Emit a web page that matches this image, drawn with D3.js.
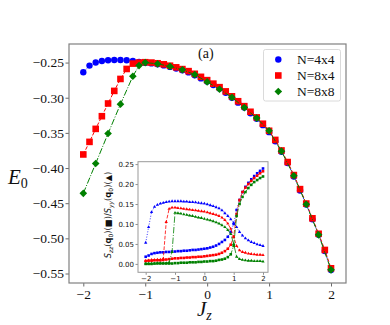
<!DOCTYPE html>
<html>
<head>
<meta charset="utf-8">
<script src="https://cdn.jsdelivr.net/npm/d3@7"></script>
<style>
  body { margin: 0; background: #fff; }
  text { fill: #111; }
</style>
</head>
<body>
<svg id="chart" width="390" height="325"></svg>
<script>
// ---- data ----
const jzFine = [-2.0, -1.9, -1.8, -1.7, -1.6, -1.5, -1.4, -1.3, -1.2, -1.1, -1.0,
  -0.9, -0.8, -0.7, -0.6, -0.5, -0.4, -0.3, -0.2, -0.1, 0.0,
  0.1, 0.2, 0.3, 0.4, 0.5, 0.6, 0.7, 0.8, 0.9, 1.0,
  1.1, 1.2, 1.3, 1.4, 1.5, 1.6, 1.7, 1.8, 1.9, 2.0];

const e0_4x4 = [-0.2638, -0.2543, -0.2500, -0.2477, -0.2467, -0.2463, -0.2463, -0.2467, -0.2477, -0.2490, -0.2505,
  -0.2512, -0.2524, -0.2540, -0.2562, -0.2585, -0.2610, -0.2640, -0.2680, -0.2725, -0.2770,
  -0.2820, -0.2870, -0.2930, -0.3000, -0.3070, -0.3140, -0.3220, -0.3300, -0.3390, -0.3490,
  -0.3620, -0.3770, -0.3930, -0.4120, -0.4320, -0.4520, -0.4730, -0.4950, -0.5180, -0.5450];

const e0_8x4 = [-0.3807, -0.3628, -0.3443, -0.3263, -0.3082, -0.2903, -0.2733, -0.2591, -0.2515, -0.2500, -0.2495,
  -0.2500, -0.2510, -0.2525, -0.2545, -0.2568, -0.2593, -0.2622, -0.2660, -0.2703, -0.2750,
  -0.2800, -0.2850, -0.2910, -0.2980, -0.3050, -0.3120, -0.3200, -0.3280, -0.3370, -0.3470,
  -0.3600, -0.3750, -0.3915, -0.4100, -0.4300, -0.4505, -0.4715, -0.4935, -0.5165, -0.5426];

const jzCoarse = [-2.0, -1.8, -1.6, -1.4, -1.2, -1.1, -1.0, -0.8, -0.6, -0.4, -0.2, 0.0,
  0.2, 0.4, 0.6, 0.8, 1.0, 1.2, 1.4, 1.6, 1.8, 2.0];
const e0_8x8 = [-0.4360, -0.3935, -0.3509, -0.3092, -0.2695, -0.2543, -0.2500, -0.2518, -0.2555, -0.2602, -0.2672, -0.2775,
  -0.2880, -0.2995, -0.3140, -0.3290, -0.3470, -0.3760, -0.4110, -0.4515, -0.4950, -0.5448];

// inset: structure factors vs Jz (squares = Szz, triangles = Syy)
const szz_4x4 = [0.018, 0.021, 0.025, 0.027, 0.028, 0.029, 0.029, 0.030, 0.030, 0.031, 0.031,
  0.032, 0.032, 0.033, 0.033, 0.034, 0.035, 0.035, 0.036, 0.037, 0.038,
  0.039, 0.041, 0.043, 0.046, 0.050, 0.055, 0.060, 0.068, 0.080, 0.100,
  0.135, 0.160, 0.180, 0.193, 0.203, 0.212, 0.220, 0.227, 0.233, 0.239];
const syy_4x4 = [0.053, 0.092, 0.130, 0.143, 0.148, 0.151, 0.153, 0.155, 0.156, 0.157, 0.157,
  0.157, 0.157, 0.156, 0.156, 0.155, 0.155, 0.154, 0.153, 0.152, 0.151,
  0.149, 0.147, 0.145, 0.142, 0.139, 0.134, 0.127, 0.120, 0.112, 0.103,
  0.092, 0.080, 0.071, 0.064, 0.059, 0.055, 0.052, 0.049, 0.047, 0.045];
const szz_8x4 = [0.007, 0.008, 0.008, 0.009, 0.009, 0.009, 0.010, 0.011, 0.012, 0.013, 0.014,
  0.014, 0.015, 0.015, 0.016, 0.016, 0.017, 0.017, 0.018, 0.018, 0.019,
  0.020, 0.021, 0.022, 0.023, 0.025, 0.028, 0.032, 0.038, 0.048, 0.068,
  0.125, 0.160, 0.180, 0.191, 0.200, 0.208, 0.215, 0.221, 0.227, 0.232];
const syy_8x4 = [0.008, 0.009, 0.010, 0.010, 0.011, 0.011, 0.013, 0.105, 0.138, 0.141, 0.141,
  0.140, 0.139, 0.138, 0.137, 0.136, 0.135, 0.134, 0.133, 0.132, 0.131,
  0.129, 0.127, 0.125, 0.123, 0.120, 0.116, 0.110, 0.101, 0.088, 0.068,
  0.045, 0.034, 0.030, 0.028, 0.026, 0.025, 0.024, 0.023, 0.023, 0.022];
const szz_8x8 = [0.000, 0.000, 0.000, 0.001, 0.001, 0.001, 0.001, 0.001, 0.001, 0.001, 0.002,
  0.002, 0.003, 0.003, 0.003, 0.004, 0.004, 0.004, 0.005, 0.005, 0.006,
  0.006, 0.007, 0.007, 0.008, 0.010, 0.011, 0.013, 0.017, 0.024, 0.045,
  0.120, 0.150, 0.168, 0.180, 0.190, 0.198, 0.205, 0.210, 0.215, 0.219];
const syy_8x8 = [0.001, 0.001, 0.001, 0.001, 0.002, 0.002, 0.002, 0.002, 0.004, 0.030, 0.128,
  0.127, 0.126, 0.124, 0.123, 0.121, 0.120, 0.118, 0.116, 0.115, 0.113,
  0.111, 0.109, 0.107, 0.104, 0.101, 0.097, 0.092, 0.085, 0.075, 0.050,
  0.018, 0.012, 0.010, 0.009, 0.008, 0.008, 0.007, 0.007, 0.007, 0.006];

const legendLabels = ["N=4x4", "N=8x4", "N=8x8"];
const mainXTicks = [-2, -1, 0, 1, 2];
const mainYTicks = [-0.55, -0.50, -0.45, -0.40, -0.35, -0.30, -0.25];
const insetXTicks = [-2, -1, 0, 1, 2];
const insetYTicks = [0, 0.05, 0.10, 0.15, 0.20, 0.25];

const BLUE = "#0000ff", RED = "#ff0000", GREEN = "#008000";
const DOT = "1,1.65", DASH = "3.7,1.6", DASHDOT = "6.4,1.6,1,1.6";

const svg = d3.select("#chart");
const serif = "'Liberation Serif', 'DejaVu Serif', serif";
const sans = "'DejaVu Sans', sans-serif";

// ---- scales ----
const x = d3.scaleLinear().domain([-2.231, 2.242]).range([69, 346]);
const y = d3.scaleLinear().domain([-0.5635, -0.2236]).range([283, 44]);
const xi = d3.scaleLinear().domain([-2.262, 2.17]).range([138, 268]);
const yi = d3.scaleLinear().domain([-0.021, 0.256]).range([272.3, 161.7]);

// marker helpers
let marker = (sel, kind, size, color) => {
  if (kind === "circle") {
    sel.append("circle").attr("r", size).attr("fill", color);
  } else if (kind === "square") {
    sel.append("rect").attr("x", -size / 2).attr("y", -size / 2)
      .attr("width", size).attr("height", size).attr("fill", color);
  } else if (kind === "diamond") {
    sel.append("path").attr("d", d3.symbol(d3.symbolSquare, size * size)())
      .attr("transform", "rotate(45)").attr("fill", color);
  } else if (kind === "triangle") {
    sel.append("path").attr("d", d3.symbol(d3.symbolTriangle, size * size * 0.45)())
      .attr("fill", color);
  }
};

let drawSeries = (g, xs, ys, sx, sy, color, dash, kind, size, lw) => {
  const pts = xs.map((v, i) => [v, ys[i]]);
  g.append("path")
    .datum(pts)
    .attr("fill", "none")
    .attr("stroke", color)
    .attr("stroke-width", lw)
    .attr("stroke-dasharray", dash)
    .attr("d", d3.line().x(d => sx(d[0])).y(d => sy(d[1])));
  g.selectAll(null)
    .data(pts)
    .enter()
    .append("g")
    .attr("transform", d => `translate(${sx(d[0])},${sy(d[1])})`)
    .each(function() { marker(d3.select(this), kind, size, color); });
};

// ---- main axes ----
const main = svg.append("g");

const xAxis = d3.axisBottom(x).tickValues(mainXTicks).tickFormat(d3.format("d"))
  .tickSize(3.5).tickPadding(2.5).tickSizeOuter(0);
const yAxis = d3.axisLeft(y).tickValues(mainYTicks).tickFormat(d3.format(".2f"))
  .tickSize(3.5).tickPadding(1.5).tickSizeOuter(0);

main.append("g").attr("transform", "translate(0,283)").call(xAxis);
main.append("g").attr("transform", "translate(69,0)").call(yAxis);
main.selectAll(".domain").remove();
main.selectAll(".tick line").attr("stroke", "#444").attr("stroke-width", 0.8);
main.selectAll(".tick text").style("font-family", serif).style("font-size", "13.5px").attr("fill", "#111");

drawSeries(main, jzFine, e0_4x4, x, y, BLUE, DOT, "circle", 3.2, 1);
drawSeries(main, jzFine, e0_8x4, x, y, RED, DASH, "square", 6.6, 1);
drawSeries(main, jzCoarse, e0_8x8, x, y, GREEN, DASHDOT, "diamond", 5.4, 1);

main.append("rect")
  .attr("x", 69).attr("y", 44).attr("width", 277).attr("height", 239)
  .attr("fill", "none").attr("stroke", "#808080").attr("stroke-width", 1.2);

// panel tag
main.append("text").attr("x", 198).attr("y", 58)
  .style("font-family", serif).style("font-size", "14px").text("(a)");

// legend
const leg = main.append("g");
leg.append("rect")
  .attr("x", 263.5).attr("y", 49.5).attr("width", 77).attr("height", 51.5).attr("rx", 2)
  .attr("fill", "#fff").attr("fill-opacity", 0.8).attr("stroke", "#d0d0d0").attr("stroke-width", 0.8);
const legKinds = [["circle", 3.2, BLUE], ["square", 6.6, RED], ["diamond", 5.4, GREEN]];
legendLabels.forEach((lab, i) => {
  const row = leg.append("g").attr("transform", `translate(0,${59.5 + i * 16})`);
  marker(row.append("g").attr("transform", "translate(278.3,0)"), legKinds[i][0], legKinds[i][1], legKinds[i][2]);
  row.append("text").attr("x", 297).attr("y", 4.5)
    .style("font-family", serif).style("font-size", "13.5px").text(lab);
});

// axis labels
const eLab = svg.append("text").attr("x", 8).attr("y", 184)
  .style("font-family", serif).style("font-size", "21px");
eLab.append("tspan").style("font-style", "italic").text("E");
eLab.append("tspan").attr("dy", 4).style("font-size", "14px").text("0");

const jLab = svg.append("text").attr("x", 197).attr("y", 316)
  .style("font-family", serif).style("font-size", "21px");
jLab.append("tspan").style("font-style", "italic").text("J");
jLab.append("tspan").attr("dy", 3.5).style("font-size", "14px").style("font-style", "italic").text("z");

// ---- inset ----
const inset = svg.append("g");
inset.append("rect")
  .attr("x", 138).attr("y", 161.7).attr("width", 130).attr("height", 110.6)
  .attr("fill", "#fff");

const xiAxis = d3.axisBottom(xi).tickValues(insetXTicks).tickFormat(d3.format("d"))
  .tickSize(2.5).tickPadding(1.5).tickSizeOuter(0);
const yiAxis = d3.axisLeft(yi).tickValues(insetYTicks).tickFormat(d3.format(".2f"))
  .tickSize(2.5).tickPadding(1.5).tickSizeOuter(0);
inset.append("g").attr("transform", "translate(0,272.3)").call(xiAxis);
inset.append("g").attr("transform", "translate(138,0)").call(yiAxis);
inset.selectAll(".domain").remove();
inset.selectAll(".tick line").attr("stroke", "#444").attr("stroke-width", 0.6);
inset.selectAll(".tick text").style("font-family", sans).style("font-size", "7px").attr("fill", "#333");

drawSeries(inset, jzFine, syy_4x4, xi, yi, BLUE, DOT, "triangle", 3.2, 0.8);
drawSeries(inset, jzFine, szz_4x4, xi, yi, BLUE, DOT, "square", 2.6, 0.8);
drawSeries(inset, jzFine, syy_8x4, xi, yi, RED, DASH, "triangle", 3.2, 0.8);
drawSeries(inset, jzFine, szz_8x4, xi, yi, RED, DASH, "square", 2.6, 0.8);
drawSeries(inset, jzFine, syy_8x8, xi, yi, GREEN, DASHDOT, "triangle", 3.2, 0.8);
drawSeries(inset, jzFine, szz_8x8, xi, yi, GREEN, DASHDOT, "square", 2.6, 0.8);

inset.append("rect")
  .attr("x", 138).attr("y", 161.7).attr("width", 130).attr("height", 110.6)
  .attr("fill", "none").attr("stroke", "#999").attr("stroke-width", 1);

// inset y label (rotated)
const iLab = inset.append("text")
  .attr("transform", "translate(111,215) rotate(-90)")
  .attr("text-anchor", "middle")
  .style("font-family", sans).style("font-size", "8.3px").attr("fill", "#333");
iLab.append("tspan").style("font-style", "italic").text("S");
iLab.append("tspan").attr("dy", 1.6).style("font-size", "6px").style("font-style", "italic").text("zz");
iLab.append("tspan").attr("dy", -1.6).text("(");
iLab.append("tspan").style("font-weight", "bold").text("q");
iLab.append("tspan").attr("dy", 1.6).style("font-size", "6px").text("0");
iLab.append("tspan").attr("dy", -1.6).text(")(■)/");
iLab.append("tspan").style("font-style", "italic").text("S");
iLab.append("tspan").attr("dy", 1.6).style("font-size", "6px").style("font-style", "italic").text("yy");
iLab.append("tspan").attr("dy", -1.6).text("(");
iLab.append("tspan").style("font-weight", "bold").text("q");
iLab.append("tspan").attr("dy", 1.6).style("font-size", "6px").text("0");
iLab.append("tspan").attr("dy", -1.6).text(")(▲)");
</script>
</body>
</html>
